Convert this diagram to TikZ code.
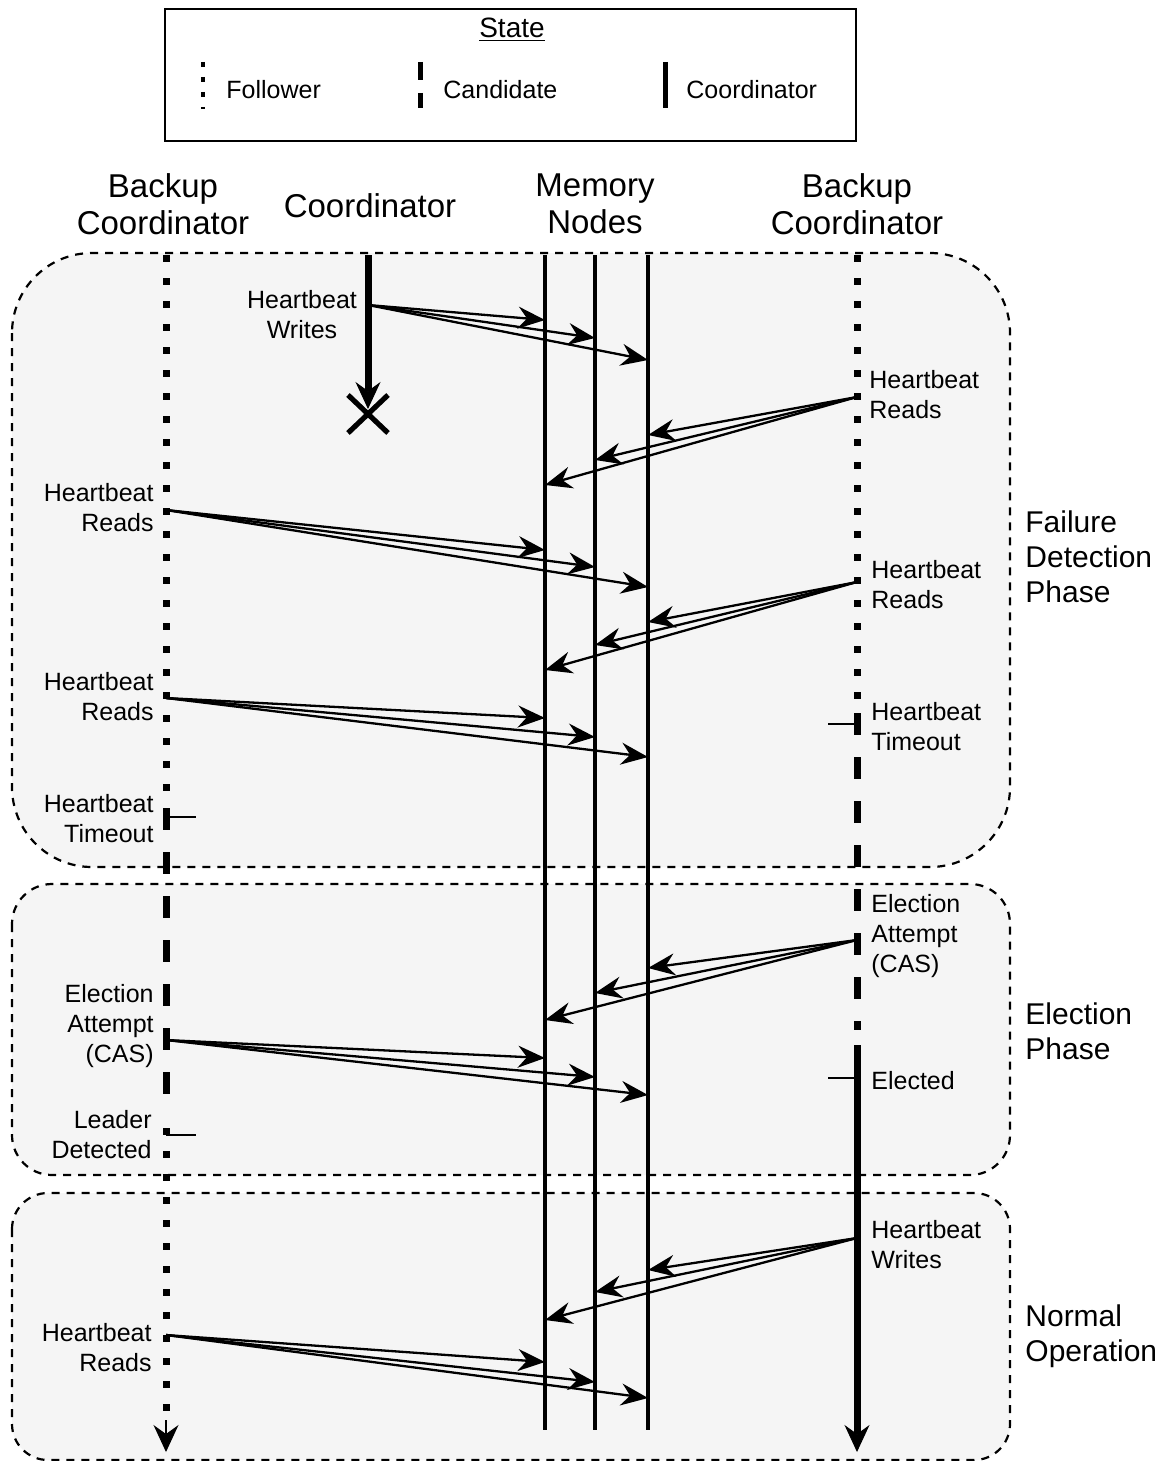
\documentclass[tikz,border=0pt]{standalone}
\usepackage{fontspec}
\setmainfont{Liberation Sans}
\usetikzlibrary{arrows.meta}
\definecolor{phasefill}{HTML}{F5F5F5}
\begin{document}
\begin{tikzpicture}[x=0.5pt,y=-0.5pt,
  lbl/.style={font=\fontsize{12.5}{15}\selectfont, inner sep=0pt},
  lbll/.style={lbl, anchor=east, align=right},
  lblr/.style={lbl, anchor=west, align=left},
  hdr/.style={font=\fontsize{16.5}{18.5}\selectfont, align=center, inner sep=0pt},
  phaselbl/.style={font=\fontsize{15}{17.5}\selectfont, align=left, anchor=west, inner sep=0pt},
  phasebox/.style={draw, fill=phasefill, dash pattern=on 4pt off 3.5pt, line width=1.1pt},
  follower/.style={line width=3.5pt, dash pattern=on 3.5pt off 8pt},
  candidate/.style={line width=3.5pt, dash pattern=on 11pt off 11pt},
  coordline/.style={line width=3.5pt},
  memline/.style={line width=2.3pt},
  msg/.style={line width=1.15pt, -{Stealth[length=13.5pt,width=11pt,inset=4.5pt]}},
  tickmark/.style={line width=1pt},
  lifetip/.style={-{Stealth[length=13.5pt,width=12.5pt,inset=4.5pt,line width=0.5pt]}}
]
% canvas
\fill[white] (0,0) rectangle (1164,1461);
\useasboundingbox (0,0) rectangle (1164,1461);

% legend
\draw[line width=1pt] (165,9) rectangle (856,141);
\node[font=\fontsize{14}{16}\selectfont, inner sep=0pt] (legtitle) at (512,30) {\underline{State}};
\draw[line width=2pt, dash pattern=on 2.5pt off 5pt] (203,62) -- (203,109);
\draw[line width=2.5pt, dash pattern=on 9pt off 6.5pt] (420,62) -- (420,108);
\draw[line width=2.5pt] (665,62) -- (665,108);
\node[lblr] (legf) at (226,90) {Follower};
\node[lblr] (legc) at (443,90) {Candidate};
\node[lblr] (legk) at (686,90) {Coordinator};

% column headings
\node[hdr] (hbl) at (163,204) {Backup\\Coordinator};
\node[hdr] (hco) at (370,206) {Coordinator};
\node[hdr] (hmem) at (595,204) {Memory\\Nodes};
\node[hdr] (hbr) at (857,204) {Backup\\Coordinator};

% phase regions
\draw[phasebox, rounded corners=40pt] (12,253) rectangle (1010,867);
\draw[phasebox, rounded corners=20pt] (12,884) rectangle (1010,1175);
\draw[phasebox, rounded corners=18pt] (12,1193) rectangle (1010,1460);

\node[phaselbl] (pfd) at (1025,557) {Failure\\Detection\\Phase};
\node[phaselbl] (pel) at (1025,1031) {Election\\Phase};
\node[phaselbl] (pno) at (1025,1336) {Normal\\Operation};

% memory node lifelines
\foreach \mx/\nm in {545/m1, 595/m2, 648/m3} {
  \coordinate (\nm top) at (\mx,255);
  \coordinate (\nm bot) at (\mx,1430);
  \draw[memline] (\nm top) -- (\nm bot);
}

% left backup coordinator lifeline
\coordinate (la) at (166,255);
\coordinate (lb) at (166,801);
\coordinate (lc) at (166,808);
\coordinate (ld) at (166,1116);
\coordinate (le) at (166,1128);
\coordinate (lf) at (166,1420);
\coordinate (lg) at (166,1452);
\draw[follower] (la) -- (lb);
\draw[candidate] (lc) -- (ld);
\draw[follower] (le) -- (lf);
\draw[lifetip, line width=1pt] (lf) -- (lg);

% coordinator lifeline, ending in failure
\coordinate (ca) at (368,255);
\coordinate (cb) at (368,409);
\draw[coordline, lifetip] (ca) -- (cb);
\coordinate (x1) at (348,395);
\coordinate (x2) at (388,433);
\coordinate (x3) at (348,433);
\coordinate (x4) at (388,395);
\draw[line width=2.6pt] (x1) -- (x2) (x3) -- (x4);

% right backup coordinator lifeline
\coordinate (ra) at (857,255);
\coordinate (rb) at (857,706);
\coordinate (rc) at (857,713);
\coordinate (rd) at (857,1030);
\coordinate (re) at (857,1045);
\coordinate (rf) at (857,1452);
\draw[follower] (ra) -- (rb);
\draw[candidate] (rc) -- (rd);
\draw[coordline, lifetip] (re) -- (rf);

% state-change ticks
\coordinate (t1a) at (166,817);  \coordinate (t1b) at (196,817);
\coordinate (t2a) at (166,1135); \coordinate (t2b) at (196,1135);
\coordinate (t3a) at (828,724);  \coordinate (t3b) at (857,724);
\coordinate (t4a) at (828,1078); \coordinate (t4b) at (857,1078);
\draw[tickmark] (t1a) -- (t1b);
\draw[tickmark] (t2a) -- (t2b);
\draw[tickmark] (t3a) -- (t3b);
\draw[tickmark] (t4a) -- (t4b);

% messages: source on a coordinator lifeline, fan-out to the three memory nodes
\foreach \s/\sx/\sy/\ya/\yb/\yc in {
    w1/368/305/320/338/360,
    l1/166/510/550/567/587,
    l2/166/698/718/737/757,
    l3/166/1040/1058/1077/1095,
    l4/166/1335/1362/1382/1398} {
  \coordinate (\s) at (\sx,\sy);
  \coordinate (\s-a) at (545,\ya);
  \coordinate (\s-b) at (595,\yb);
  \coordinate (\s-c) at (648,\yc);
  \draw[msg] (\s) -- (\s-a);
  \draw[msg] (\s) -- (\s-b);
  \draw[msg] (\s) -- (\s-c);
}
\foreach \s/\sy/\ya/\yb/\yc in {
    r1/397/435/460/485,
    r2/582/622/645/670,
    r3/940/968/993/1020,
    r4/1238/1270/1292/1320} {
  \coordinate (\s) at (857,\sy);
  \coordinate (\s-c) at (648,\ya);
  \coordinate (\s-b) at (595,\yb);
  \coordinate (\s-a) at (545,\yc);
  \draw[msg] (\s) -- (\s-c);
  \draw[msg] (\s) -- (\s-b);
  \draw[msg] (\s) -- (\s-a);
}

% labels, left side
\node[lbl, align=center] (tw1) at (302,315) {Heartbeat\\Writes};
\node[lbll] (tl1) at (154,508) {Heartbeat\\Reads};
\node[lbll] (tl2) at (154,697) {Heartbeat\\Reads};
\node[lbll] (tl3) at (154,819) {Heartbeat\\Timeout};
\node[lbll] (tl4) at (154,1026) {Election\\Attempt\\(CAS)};
\node[lbll] (tl5) at (152,1135) {Leader\\Detected};
\node[lbll] (tl6) at (152,1348) {Heartbeat\\Reads};

% labels, right side
\node[lblr] (tr1) at (869,395) {Heartbeat\\Reads};
\node[lblr] (tr2) at (871,585) {Heartbeat\\Reads};
\node[lblr] (tr3) at (871,727) {Heartbeat\\Timeout};
\node[lblr] (tr4) at (871,936) {Election\\Attempt\\(CAS)};
\node[lblr] (tr5) at (871,1081) {Elected};
\node[lblr] (tr6) at (871,1245) {Heartbeat\\Writes};
\end{tikzpicture}
\end{document}
